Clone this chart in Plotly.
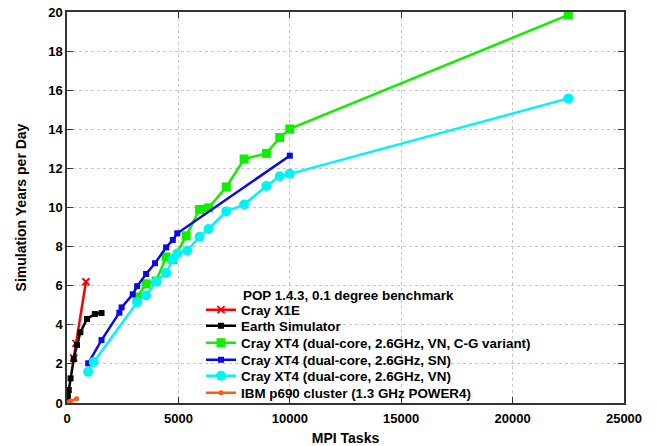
import plotly.graph_objects as go

x1e_x = [300, 400, 850]
x1e_y = [2.3, 3.05, 6.2]

es_x = [20, 40, 80, 160, 300, 450, 600, 900, 1250, 1550]
es_y = [0.2, 0.35, 0.66, 1.26, 2.24, 2.97, 3.62, 4.3, 4.55, 4.6]

cg_x = [3150, 3550, 4000, 4450, 4750, 5350, 5950, 6350, 7150, 7950, 8950, 9550, 10000, 22500]
cg_y = [5.42, 6.1, 6.24, 7.47, 7.33, 8.55, 9.9, 9.98, 11.05, 12.48, 12.77, 13.58, 14.02, 19.85]

sn_x = [950, 1550, 2350, 2450, 2950, 3150, 3550, 3950, 4450, 4750, 4950, 10000]
sn_y = [2.03, 3.22, 4.62, 4.89, 5.56, 5.98, 6.6, 7.15, 7.96, 8.34, 8.68, 12.65]

vn_x = [950, 1200, 3150, 3550, 4000, 4450, 4750, 4950, 5400, 5950, 6350, 7150, 7950, 8950, 9550, 10000, 22500]
vn_y = [1.6, 2.1, 5.15, 5.5, 6.2, 6.65, 7.35, 7.65, 7.8, 8.5, 8.9, 9.8, 10.15, 11.1, 11.6, 11.72, 15.58]

ibm_x = [60, 160, 430]
ibm_y = [0.05, 0.1, 0.22]

x_ticks = [0, 5000, 10000, 15000, 20000, 25000]
y_ticks = list(range(0, 21, 2))

legend_title = "POP 1.4.3, 0.1 degree benchmark"
names = ["Cray X1E", "Earth Simulator",
         "Cray XT4 (dual-core, 2.6GHz, VN, C-G variant)",
         "Cray XT4 (dual-core, 2.6GHz, SN)",
         "Cray XT4 (dual-core, 2.6GHz, VN)",
         "IBM p690 cluster (1.3 GHz POWER4)"]

series = [
    (x1e_x, x1e_y, "#ff0000", "x-thin", 7),
    (es_x, es_y, "#000000", "square", 6),
    (cg_x, cg_y, "#11ee00", "square", 9),
    (sn_x, sn_y, "#0a0ae8", "square", 6),
    (vn_x, vn_y, "#00f4f4", "circle", 10),
    (ibm_x, ibm_y, "#ff5a14", "circle", 5),
]

font_family = "Liberation Sans, Arial, sans-serif"
legend_font = dict(family=font_family, size=13.4, weight="bold", color="#000000")

fig = go.Figure()
legend_ids = ["legend", "legend2", "legend3", "legend4", "legend5", "legend6"]
for lid, name, (xs, ys, col, sym, sz) in zip(legend_ids, names, series):
    fig.add_trace(go.Scatter(
        x=xs, y=ys, name=name, mode="lines+markers", legend=lid, showlegend=True,
        line=dict(color=col, width=2.5),
        marker=dict(symbol=sym, size=sz, color=col,
                    line=dict(color=col, width=2 if sym == "x-thin" else 0)),
    ))

axis_common = dict(
    showline=True, linecolor="#333333", linewidth=1.5, mirror="ticks",
    ticks="inside", ticklen=6, tickcolor="#333333",
    showgrid=True, gridcolor="#c8c8c8", griddash="dot", gridwidth=1,
    zeroline=False, automargin=False,
    tickfont=dict(family=font_family, size=13, color="#000000", weight="bold"),
)

# legend entry vertical positions (paper fraction of plot area)
legend_y = [0.238, 0.197, 0.1535, 0.110, 0.069, 0.0256]
legend_layout = {}
for lid, ly in zip(legend_ids, legend_y):
    legend_layout[lid] = dict(x=0.2406, y=ly, xanchor="left", yanchor="middle",
                              bgcolor="rgba(255,255,255,0)", borderwidth=0,
                              font=legend_font)

fig.update_layout(
    width=657, height=446,
    margin=dict(l=67, r=33, t=12, b=43, autoexpand=False),
    paper_bgcolor="white", plot_bgcolor="white",
    showlegend=True,
    font=dict(family=font_family, size=13, color="#000000"),
    xaxis=dict(range=[0, 25000], tickvals=x_ticks, ticktext=[str(v) for v in x_ticks],
               ticklabelstandoff=3,
               title=dict(text="<b>MPI Tasks</b>", font=dict(size=14), standoff=14),
               **axis_common),
    yaxis=dict(range=[0, 20], tickvals=y_ticks, ticktext=[str(v) for v in y_ticks],
               title=dict(text="<b>Simulation Years per Day</b>", font=dict(size=14), standoff=18),
               **axis_common),
    annotations=[dict(text="<b>" + legend_title + "</b>",
                      xref="paper", yref="paper", x=0.3124, y=0.2737,
                      xanchor="left", yanchor="middle", showarrow=False,
                      font=dict(size=13.4))],
    **legend_layout,
)

fig.write_html("out.html")
